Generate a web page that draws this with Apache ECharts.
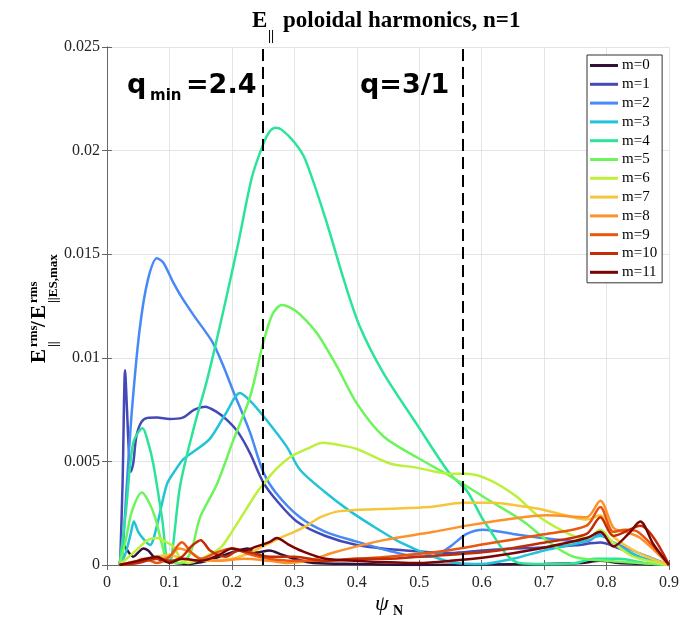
<!DOCTYPE html>
<html>
<head>
<meta charset="utf-8">
<script src="https://cdn.jsdelivr.net/npm/echarts@6/dist/echarts.min.js"></script>
<style>
  html, body { margin: 0; padding: 0; background: #fff; }
  #chart { width: 691px; height: 619px; }
</style>
</head>
<body>
<div id="chart"></div>
<script>
// poloidal harmonics m=0..11, pairs of [psiN, E_par rms / E_par ES,max rms]
var names = ['m=0', 'm=1', 'm=2', 'm=3', 'm=4', 'm=5', 'm=6', 'm=7', 'm=8', 'm=9', 'm=10', 'm=11'];
var colors = ['#30123b', '#4449b8', '#4689f7', '#22c3d8', '#2be49a', '#6cf55a',
              '#bdf03c', '#f4c63c', '#fd922c', '#e9560f', '#c22d05', '#7a0403'];

var m0 = [[0.02,0],[0.028,0.0009],[0.035,0.0006],[0.042,0.0004],[0.05,0.0006],[0.058,0.0008],[0.066,0.0007],
  [0.075,0.0004],[0.09,0.0002],[0.11,0.0001],[0.13,0.00005],[0.16,0.0002],[0.19,0.0005],[0.21,0.0007],
  [0.225,0.0008],[0.24,0.0006],[0.26,0.0007],[0.28,0.0005],[0.3,0.0003],[0.33,0.0001],[0.4,0.00005],
  [0.5,0],[0.6,0.00003],[0.7,0.00005],[0.76,0.0001],[0.79,0.0002],[0.82,0.0001],[0.86,0.00005],[0.9,0]];
var m1 = [[0.021,0],[0.025,0.004],[0.029,0.0094],[0.032,0.0075],[0.035,0.0055],[0.038,0.0045],[0.042,0.0049],
  [0.047,0.0062],[0.055,0.0069],[0.065,0.0071],[0.08,0.00712],[0.1,0.00705],[0.12,0.0071],[0.14,0.0075],
  [0.157,0.00764],[0.175,0.0074],[0.192,0.007],[0.21,0.0064],[0.229,0.0054],[0.25,0.004],[0.272,0.0031],
  [0.304,0.0021],[0.35,0.0014],[0.4,0.00097],[0.47,0.00072],[0.55,0.00058],[0.6,0.0007],[0.65,0.0008],
  [0.7,0.00085],[0.75,0.00095],[0.79,0.00108],[0.82,0.0008],[0.86,0.0003],[0.9,0]];
var m2 = [[0.024,0],[0.032,0.004],[0.04,0.0075],[0.052,0.0113],[0.065,0.0137],[0.08,0.0148],[0.09,0.0146],
  [0.105,0.0137],[0.12,0.0129],[0.14,0.012],[0.168,0.0108],[0.185,0.0097],[0.202,0.0084],[0.229,0.0064],
  [0.25,0.0045],[0.27,0.0035],[0.309,0.0023],[0.35,0.0016],[0.4,0.00113],[0.45,0.0007],[0.5,0.0004],
  [0.52,0.0004],[0.55,0.0009],[0.576,0.0015],[0.603,0.0017],[0.65,0.0015],[0.698,0.0013],[0.768,0.00113],
  [0.79,0.0015],[0.81,0.0011],[0.85,0.0006],[0.9,0]];
var m3 = [[0.022,0],[0.03,0.0006],[0.038,0.0015],[0.043,0.0021],[0.05,0.0016],[0.06,0.0012],[0.069,0.00097],
  [0.08,0.0019],[0.096,0.0039],[0.11,0.0046],[0.122,0.0051],[0.14,0.0055],[0.165,0.0061],[0.19,0.0073],
  [0.213,0.0083],[0.23,0.0079],[0.25,0.0072],[0.288,0.0057],[0.309,0.0046],[0.35,0.0035],[0.389,0.0026],
  [0.43,0.0018],[0.469,0.0011],[0.523,0.0004],[0.56,0.0001],[0.6,0.00005],[0.65,0.0003],[0.7,0.0007],
  [0.76,0.0011],[0.79,0.0014],[0.82,0.0009],[0.86,0.0003],[0.9,0]];
var m4 = [[0.02,0],[0.03,0.0025],[0.042,0.0059],[0.057,0.0066],[0.065,0.006],[0.074,0.0049],[0.088,0.0023],
  [0.098,0.0002],[0.103,0.0003],[0.117,0.0038],[0.138,0.0065],[0.16,0.0089],[0.176,0.0109],[0.194,0.0133],
  [0.21,0.0155],[0.232,0.0187],[0.25,0.0203],[0.26,0.0209],[0.27,0.0211],[0.28,0.021],[0.3,0.0204],
  [0.317,0.0196],[0.349,0.0168],[0.381,0.0136],[0.405,0.0115],[0.442,0.0093],[0.496,0.0068],[0.549,0.0044],
  [0.576,0.0036],[0.6,0.0023],[0.613,0.0017],[0.64,0.0005],[0.66,0.0001],[0.7,0.00005],[0.75,0.0001],
  [0.78,0.0003],[0.82,0.0003],[0.86,0.0001],[0.9,0]];
var m5 = [[0.02,0],[0.03,0.0012],[0.04,0.0026],[0.056,0.0035],[0.066,0.0031],[0.077,0.0023],[0.088,0.001],
  [0.096,0.0002],[0.105,0.0001],[0.12,0.0001],[0.135,0.0007],[0.149,0.0023],[0.176,0.0039],[0.202,0.006],
  [0.229,0.0081],[0.25,0.0107],[0.265,0.0121],[0.28,0.01255],[0.295,0.0124],[0.309,0.0121],[0.336,0.0112],
  [0.368,0.0096],[0.4,0.0078],[0.443,0.0062],[0.496,0.0052],[0.549,0.0043],[0.576,0.0038],[0.613,0.0031],
  [0.667,0.0021],[0.71,0.00105],[0.747,0.0004],[0.8,0.0002],[0.85,0.0001],[0.9,0]];
var m6 = [[0.02,0],[0.035,0.0004],[0.05,0.0008],[0.065,0.0012],[0.08,0.0013],[0.095,0.0011],[0.106,0.0009],
  [0.12,0.0002],[0.13,0.0001],[0.15,0.0003],[0.17,0.0006],[0.184,0.0009],[0.2,0.0016],[0.221,0.0026],
  [0.24,0.0035],[0.253,0.004],[0.27,0.0046],[0.293,0.0052],[0.32,0.0056],[0.346,0.0059],[0.37,0.0058],
  [0.4,0.0056],[0.453,0.0049],[0.496,0.0047],[0.549,0.0044],[0.576,0.0044],[0.613,0.0041],[0.656,0.0033],
  [0.693,0.0023],[0.747,0.0014],[0.77,0.0013],[0.79,0.0017],[0.81,0.0011],[0.843,0.0004],[0.9,0]];
var m7 = [[0.02,0],[0.05,0.0002],[0.08,0.0004],[0.1,0.0005],[0.12,0.0003],[0.15,0.0002],[0.2,0.0003],
  [0.23,0.0006],[0.25,0.0009],[0.277,0.0013],[0.3,0.0016],[0.32,0.0019],[0.341,0.0023],[0.373,0.0026],
  [0.437,0.0027],[0.517,0.0028],[0.571,0.003],[0.62,0.003],[0.651,0.0029],[0.693,0.0027],[0.747,0.0023],
  [0.768,0.0022],[0.79,0.0024],[0.81,0.0014],[0.85,0.0006],[0.9,0]];
var m8 = [[0.02,0],[0.05,0.0002],[0.08,0.0003],[0.1,0.0004],[0.115,0.0008],[0.135,0.0006],[0.15,0.0003],
  [0.18,0.0002],[0.22,0.0003],[0.26,0.0002],[0.29,0.0001],[0.32,0.0002],[0.363,0.0006],[0.4,0.0009],
  [0.443,0.0012],[0.523,0.0016],[0.576,0.0019],[0.64,0.0022],[0.704,0.0024],[0.768,0.0023],[0.79,0.0031],
  [0.811,0.0018],[0.83,0.0016],[0.854,0.0013],[0.9,0]];
var m9 = [[0.02,0],[0.04,0.0001],[0.06,0.0003],[0.08,0.0001],[0.1,0.0004],[0.12,0.0011],[0.135,0.0006],
  [0.15,0.0003],[0.175,0.0006],[0.2,0.0008],[0.23,0.0005],[0.26,0.0003],[0.3,0.0002],[0.35,0.0002],
  [0.4,0.0003],[0.45,0.0004],[0.533,0.00065],[0.613,0.00105],[0.693,0.00145],[0.768,0.0019],[0.79,0.0028],
  [0.811,0.0016],[0.83,0.0017],[0.85,0.0016],[0.9,0]];
var m10 = [[0.02,0],[0.05,0.0001],[0.08,0.0003],[0.1,0.0002],[0.12,0.0004],[0.135,0.0009],[0.15,0.0012],
  [0.165,0.0007],[0.19,0.0004],[0.21,0.0007],[0.23,0.0006],[0.26,0.0004],[0.3,0.0004],[0.35,0.0002],
  [0.4,0.0003],[0.45,0.0003],[0.5,0.0004],[0.55,0.0005],[0.613,0.00065],[0.693,0.00105],[0.768,0.0015],
  [0.79,0.0023],[0.811,0.0014],[0.854,0.0019],[0.9,0]];
var m11 = [[0.02,0],[0.05,0.0002],[0.08,0.0004],[0.1,0.0001],[0.12,0.0003],[0.15,0.0002],[0.18,0.0005],
  [0.2,0.0008],[0.22,0.0007],[0.24,0.0009],[0.26,0.0011],[0.272,0.0013],[0.29,0.001],[0.31,0.0007],
  [0.35,0.0003],[0.4,0.0002],[0.5,0.0001],[0.55,0.0002],[0.613,0.0004],[0.693,0.0008],[0.768,0.0013],
  [0.79,0.0016],[0.811,0.0009],[0.835,0.0015],[0.854,0.0021],[0.875,0.001],[0.9,0]];

var harmonics = [m0, m1, m2, m3, m4, m5, m6, m7, m8, m9, m10, m11];
// rational surfaces: q_min = 2.4 and q = 3/1
var qLines = [0.25, 0.572];

var xTicks = [0, 0.9, 0.1];
var yTicks = [0, 0.025, 0.005];

var myChart = echarts.init(document.getElementById('chart'), null, { renderer: 'canvas' });

var serif = '"Liberation Serif", "Times New Roman", serif';
var axisColor = '#666';

var series = harmonics.map(function (d, i) {
  return {
    name: names[i],
    type: 'line',
    data: d,
    showSymbol: false,
    smooth: 0.3,
    lineStyle: { width: 2.5, color: colors[i] },
    itemStyle: { color: colors[i] },
    z: 3
  };
});

series.push({
  name: 'q',
  type: 'line',
  data: [],
  z: 4,
  markLine: {
    silent: true,
    symbol: ['none', 'none'],
    label: { show: false },
    lineStyle: { color: '#000', width: 2, type: [12, 6] },
    data: qLines.map(function (q) { return { xAxis: q }; })
  }
});

var plainAxis = {
  axisLine: { show: true, lineStyle: { color: axisColor, width: 1 } },
  axisTick: { show: true, inside: true, length: 5, lineStyle: { color: axisColor } },
  axisLabel: { show: false },
  splitLine: { show: false }
};

option = {
  animation: false,
  backgroundColor: '#fff',
  grid: { left: 107, right: 22, top: 47, bottom: 54 },
  legend: {
    data: names,
    orient: 'vertical',
    left: 587,
    top: 55,
    padding: [3, 5, 3, 3],
    itemGap: 3.8,
    itemWidth: 28,
    itemHeight: 3,
    icon: 'rect',
    backgroundColor: '#fff',
    borderColor: '#333',
    borderWidth: 1,
    borderRadius: 0,
    textStyle: { fontFamily: serif, fontSize: 15, color: '#000', padding: [0, 0, 0, -1] }
  },
  xAxis: [
    {
      type: 'value',
      min: xTicks[0], max: xTicks[1], interval: xTicks[2],
      axisLine: { show: true, onZero: false, lineStyle: { color: axisColor, width: 1 } },
      axisTick: { show: true, inside: true, length: 5, lineStyle: { color: axisColor } },
      axisLabel: {
        fontFamily: serif, fontSize: 16, color: '#262626', margin: 10,
        formatter: function (v) { return String(+v.toFixed(2)); }
      },
      splitLine: { show: true, lineStyle: { color: '#e4e4e4', width: 1 } }
    },
    Object.assign({ type: 'value', position: 'top', min: xTicks[0], max: xTicks[1], interval: xTicks[2] }, plainAxis)
  ],
  yAxis: [
    {
      type: 'value',
      min: yTicks[0], max: yTicks[1], interval: yTicks[2],
      axisLine: { show: true, onZero: false, lineStyle: { color: axisColor, width: 1 } },
      axisTick: { show: true, inside: true, length: 5, lineStyle: { color: axisColor } },
      axisLabel: {
        fontFamily: serif, fontSize: 16, color: '#262626', margin: 7,
        formatter: function (v) { return String(+v.toFixed(4)); }
      },
      splitLine: { show: true, lineStyle: { color: '#e4e4e4', width: 1 } }
    },
    Object.assign({ type: 'value', position: 'right', min: yTicks[0], max: yTicks[1], interval: yTicks[2] }, plainAxis)
  ],
  graphic: [
    // title
    { type: 'text', x: 252, y: 21, style: { text: 'E', font: 'bold 23px ' + serif, fill: '#000', textVerticalAlign: 'middle' } },
    { type: 'text', x: 268, y: 36, style: { text: '||', font: 'bold 14px ' + serif, fill: '#000', textVerticalAlign: 'middle' } },
    { type: 'text', x: 283, y: 21, style: { text: 'poloidal harmonics, n=1', font: 'bold 23px ' + serif, fill: '#000', textVerticalAlign: 'middle' } },
    // annotations
    { type: 'text', x: 127, y: 86, z: 10, style: { text: 'q', font: 'bold 27px "DejaVu Sans"', fill: '#000', textVerticalAlign: 'middle' } },
    { type: 'text', x: 150, y: 96, z: 10, style: { text: 'min', font: 'bold 15px "DejaVu Sans"', fill: '#000', textVerticalAlign: 'middle' } },
    { type: 'text', x: 186, y: 86, z: 10, style: { text: '=2.4', font: 'bold 27px "DejaVu Sans"', fill: '#000', textVerticalAlign: 'middle' } },
    { type: 'text', x: 360, y: 86, z: 10, style: { text: 'q=3/1', font: 'bold 27px "DejaVu Sans"', fill: '#000', textVerticalAlign: 'middle' } },
    // x axis name
    { type: 'text', x: 375, y: 604, style: { text: 'ψ', font: 'italic 22px ' + serif, fill: '#000', textVerticalAlign: 'middle' } },
    { type: 'text', x: 393, y: 611, style: { text: 'N', font: 'bold 14px ' + serif, fill: '#000', textVerticalAlign: 'middle' } },
    // y axis name (rotated)
    {
      type: 'group', x: 40, y: 363, rotation: Math.PI / 2,
      children: [
        { type: 'text', x: 0, y: 0, style: { text: 'E', font: 'bold 21px ' + serif, fill: '#000', textVerticalAlign: 'middle' } },
        { type: 'text', x: 16, y: -6, style: { text: 'rms', font: 'bold 13px ' + serif, fill: '#000', textVerticalAlign: 'middle' } },
        { type: 'text', x: 16, y: 14, style: { text: '||', font: 'bold 13px ' + serif, fill: '#000', textVerticalAlign: 'middle' } },
        { type: 'text', x: 36, y: 0, style: { text: '/', font: 'bold 21px ' + serif, fill: '#000', textVerticalAlign: 'middle' } },
        { type: 'text', x: 44, y: 0, style: { text: 'E', font: 'bold 21px ' + serif, fill: '#000', textVerticalAlign: 'middle' } },
        { type: 'text', x: 60, y: -6, style: { text: 'rms', font: 'bold 13px ' + serif, fill: '#000', textVerticalAlign: 'middle' } },
        { type: 'text', x: 60, y: 14, style: { text: '||ES,max', font: 'bold 13px ' + serif, fill: '#000', textVerticalAlign: 'middle' } }
      ]
    }
  ],
  series: series
};

myChart.setOption(option);
</script>
</body>
</html>
